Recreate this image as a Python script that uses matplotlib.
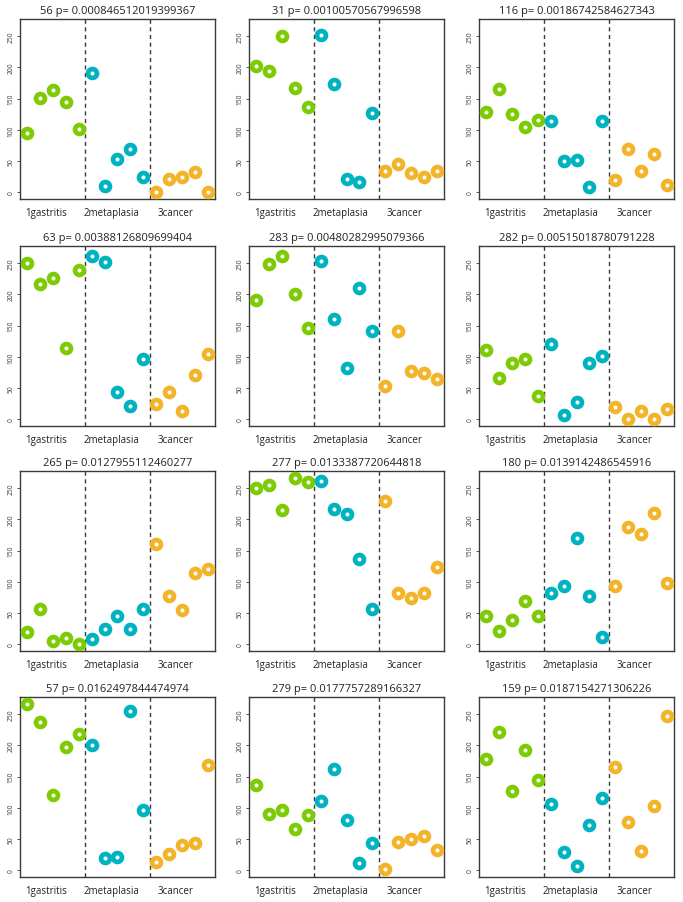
import numpy as np
import matplotlib
matplotlib.use('Agg')
import matplotlib.pyplot as plt

plt.rcParams['font.family'] = ['Open Sans', 'DejaVu Sans']

# ── data ───────────────────────────────────────────────────────────────────
GENES   = ["56", "31", "116", "63", "283", "282", "265", "277", "180", "57", "279", "159"]
PVALUES = ["0.000846512019399367", "0.00100570567996598", "0.00186742584627343",
           "0.00388126809699404", "0.00480282995079366", "0.00515018780791228",
           "0.0127955112460277", "0.0133387720644818", "0.0139142486545916",
           "0.0162497844474974", "0.0177757289166327", "0.0187154271306226"]
GROUPS  = ["1gastritis", "2metaplasia", "3cancer"]

GASTRITIS = [
    [95, 151, 164, 144, 101],
    [202, 194, 250, 167, 136],
    [128, 165, 125, 105, 116],
    [250, 217, 227, 115, 239],
    [191, 249, 262, 200, 147],
    [111, 67, 91, 97, 37],
    [19, 57, 6, 10, 1],
    [250, 255, 216, 266, 260],
    [46, 22, 39, 70, 45],
    [267, 238, 120, 197, 219],
    [136, 91, 96, 66, 89],
    [178, 221, 127, 192, 145],
]
METAPLASIA = [
    [191, 10, 54, 69, 24],
    [252, 174, 22, 16, 127],
    [114, 50, 51, 9, 114],
    [261, 252, 44, 22, 96],
    [254, 161, 82, 210, 141],
    [121, 7, 27, 91, 102],
    [8, 24, 46, 25, 56],
    [262, 217, 208, 136, 56],
    [82, 94, 171, 77, 12],
    [201, 19, 22, 255, 97],
    [111, 163, 80, 11, 44],
    [106, 29, 7, 72, 116],
]
CANCER = [
    [1, 22, 24, 32, 1],
    [34, 46, 31, 24, 34],
    [20, 69, 34, 62, 12],
    [24, 44, 14, 71, 104],
    [53, 142, 78, 75, 65],
    [20, 1, 14, 1, 16],
    [160, 77, 55, 115, 121],
    [230, 82, 75, 82, 124],
    [94, 188, 176, 211, 99],
    [14, 26, 40, 44, 168],
    [2, 46, 50, 55, 32],
    [165, 77, 31, 103, 248],
]

COLORS = ["#7ccb05", "#00b3c1", "#f3b42a"]
EDGE   = "#3a3a3a"

# ── layout (pixel boxes) ──────────────────────────────────────────────────
W, H = 683, 903
COL_X = [20, 249, 479]
ROW_Y = [20, 247, 472, 698]
BOX_W, BOX_H = 195, 180

ymax = max(max(max(r) for r in grp) for grp in (GASTRITIS, METAPLASIA, CANCER))
ylim = (-0.04 * ymax, 1.04 * ymax)

fig = plt.figure(figsize=(W / 100, H / 100), dpi=100)

for i in range(12):
    r, c = divmod(i, 3)
    ax = fig.add_axes([COL_X[c] / W, 1 - (ROW_Y[r] + BOX_H) / H, BOX_W / W, BOX_H / H])

    n = len(GASTRITIS[i])
    for g, vals in enumerate([GASTRITIS[i], METAPLASIA[i], CANCER[i]]):
        xs = np.arange(1, n + 1) + g * n
        ax.plot(xs, vals, 'o', ms=6.4, mew=3.4, mfc='white', mec=COLORS[g],
                clip_on=False, zorder=3)

    # group separators
    ax.axvline(n + 0.5, color=EDGE, ls=(0, (3, 2.5)), lw=1)
    ax.axvline(2 * n + 0.5, color=EDGE, ls=(0, (3, 2.5)), lw=1)

    ax.set_xlim(1 - 0.04 * (3 * n - 1), 3 * n + 0.04 * (3 * n - 1))
    ax.set_ylim(*ylim)

    ax.set_yticks([0, 50, 100, 150, 200, 250])
    ax.tick_params(axis='y', labelsize=4.8, length=2.5, width=0.6, pad=1.5,
                   colors=EDGE, labelrotation=90)
    for lab in ax.get_yticklabels():
        lab.set_va('center')

    ax.set_xticks([n / 2, 1.5 * n, 2.5 * n])
    ax.set_xticklabels(GROUPS)
    ax.tick_params(axis='x', length=0, labelsize=7, pad=6, colors='#222222')

    for s in ax.spines.values():
        s.set_color(EDGE)
        s.set_linewidth(1.0)

    ax.set_title(f"{GENES[i]} p= {PVALUES[i]}", fontsize=8, pad=4.5, color='#222222')

fig.savefig("out.png", dpi=100)
